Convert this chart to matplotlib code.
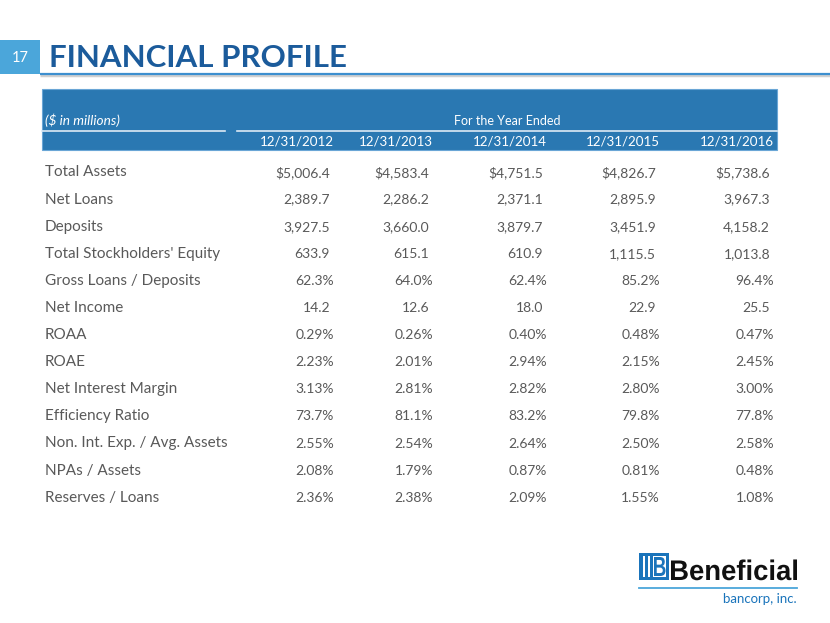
import matplotlib
matplotlib.use("Agg")
import matplotlib.pyplot as plt
from matplotlib.patches import Rectangle, PathPatch
from matplotlib.textpath import TextPath
from matplotlib.font_manager import FontProperties
from matplotlib.transforms import Affine2D

plt.rcParams['font.family'] = ['Lato', 'DejaVu Sans']

# table content
years = ["12/31/2012", "12/31/2013", "12/31/2014", "12/31/2015", "12/31/2016"]
row_labels = [
    "Total Assets", "Net Loans", "Deposits", "Total Stockholders' Equity",
    "Gross Loans / Deposits", "Net Income", "ROAA", "ROAE",
    "Net Interest Margin", "Efficiency Ratio", "Non. Int. Exp. / Avg. Assets",
    "NPAs / Assets", "Reserves / Loans",
]
total_assets = ["$5,006.4", "$4,583.4", "$4,751.5", "$4,826.7", "$5,738.6"]
net_loans = ["2,389.7", "2,286.2", "2,371.1", "2,895.9", "3,967.3"]
deposits = ["3,927.5", "3,660.0", "3,879.7", "3,451.9", "4,158.2"]
equity = ["633.9", "615.1", "610.9", "1,115.5", "1,013.8"]
loans_deposits = ["62.3%", "64.0%", "62.4%", "85.2%", "96.4%"]
net_income = ["14.2", "12.6", "18.0", "22.9", "25.5"]
roaa = ["0.29%", "0.26%", "0.40%", "0.48%", "0.47%"]
roae = ["2.23%", "2.01%", "2.94%", "2.15%", "2.45%"]
nim = ["3.13%", "2.81%", "2.82%", "2.80%", "3.00%"]
efficiency = ["73.7%", "81.1%", "83.2%", "79.8%", "77.8%"]
nonint_exp = ["2.55%", "2.54%", "2.64%", "2.50%", "2.58%"]
npas = ["2.08%", "1.79%", "0.87%", "0.81%", "0.48%"]
reserves = ["2.36%", "2.38%", "2.09%", "1.55%", "1.08%"]
rows = [total_assets, net_loans, deposits, equity, loans_deposits, net_income,
        roaa, roae, nim, efficiency, nonint_exp, npas, reserves]

W, H = 830, 623
fig = plt.figure(figsize=(W / 100, H / 100), dpi=100)
ax = fig.add_axes([0, 0, 1, 1])
ax.set_xlim(0, W)
ax.set_ylim(H, 0)
ax.axis('off')

gray = '#595959'
head_blue = '#2a78b2'
title_blue = '#1b5b9b'


def fit_text(s, x0, x1, y_base, cap_h, color, weight='bold', family='Liberation Sans'):
    # draw text as a path stretched to a given width and cap height
    fp = FontProperties(family=family, weight=weight)
    tp = TextPath((0, 0), s, size=100, prop=fp)
    ext = tp.get_extents()
    cap = TextPath((0, 0), "B", size=100, prop=fp).get_extents().height
    sx = (x1 - x0) / ext.width
    sy = cap_h / cap
    tr = Affine2D().translate(-ext.x0, 0).scale(sx, -sy).translate(x0, y_base)
    ax.add_patch(PathPatch(tr.transform_path(tp), color=color, lw=0))


# slide number and title
ax.add_patch(Rectangle((0, 40), 40, 34, color='#4ba6da', lw=0))
ax.text(20, 58, "17", color='white', fontsize=10.5, ha='center', va='center')
ax.text(49, 58, "FINANCIAL PROFILE", color=title_blue, fontsize=22.5,
        fontweight='bold', ha='left', va='center')
ax.plot([40, 830], [75, 75], color='#d0d0d0', lw=2.5, solid_capstyle='butt')
ax.plot([40, 830], [73.5, 73.5], color='#3d8fcf', lw=1.6, solid_capstyle='butt')

# header box
ax.add_patch(Rectangle((42, 89), 735, 61, facecolor=head_blue,
                       edgecolor='#6aa6d6', lw=0.8))
ax.plot([42, 225], [131, 131], color='#dce9f5', lw=1.2)
ax.plot([237, 777], [131, 131], color='#dce9f5', lw=1.2)
ax.text(45, 125, "($ in millions)", color='white', fontsize=9.8,
        style='italic', ha='left', va='baseline')
ax.text(507, 125, "For the Year Ended", color='white', fontsize=9,
        ha='center', va='baseline')

num_right = [330, 429, 543, 656, 770]
for x, yr in zip(num_right, years):
    ax.text(x + 4, 146, yr, color='white', fontsize=9.6, ha='right',
            va='baseline')

# body rows
y0, dy = 172.5, 27.1
for i, (lab, vals) in enumerate(zip(row_labels, rows)):
    y = y0 + i * dy
    ax.text(45, y, lab, color=gray, fontsize=11, ha='left', va='center')
    for x, v in zip(num_right, vals):
        off = 4 if v.endswith('%') else 0
        ax.text(x + off, y, v, color=gray, fontsize=10, ha='right',
                va='center')

# logo
logo_blue = '#1a74bb'
ax.add_patch(Rectangle((639, 553), 30, 27, color=logo_blue, lw=0))
for bx in (643, 648):
    ax.add_patch(Rectangle((bx, 556), 2, 21, color='white', lw=0))
ax.add_patch(Rectangle((653, 556), 13, 21, color='white', lw=0))
fit_text("B", 654, 665.5, 576, 19, logo_blue)
fit_text("Beneficial", 671, 797, 580, 19.5, '#111111')
ax.plot([639, 797], [588, 588], color='#4ba6da', lw=1.3)
ax.text(797, 599, "bancorp, inc.", color=logo_blue, fontsize=9.5,
        ha='right', va='center')

fig.savefig("out.png", dpi=100)
